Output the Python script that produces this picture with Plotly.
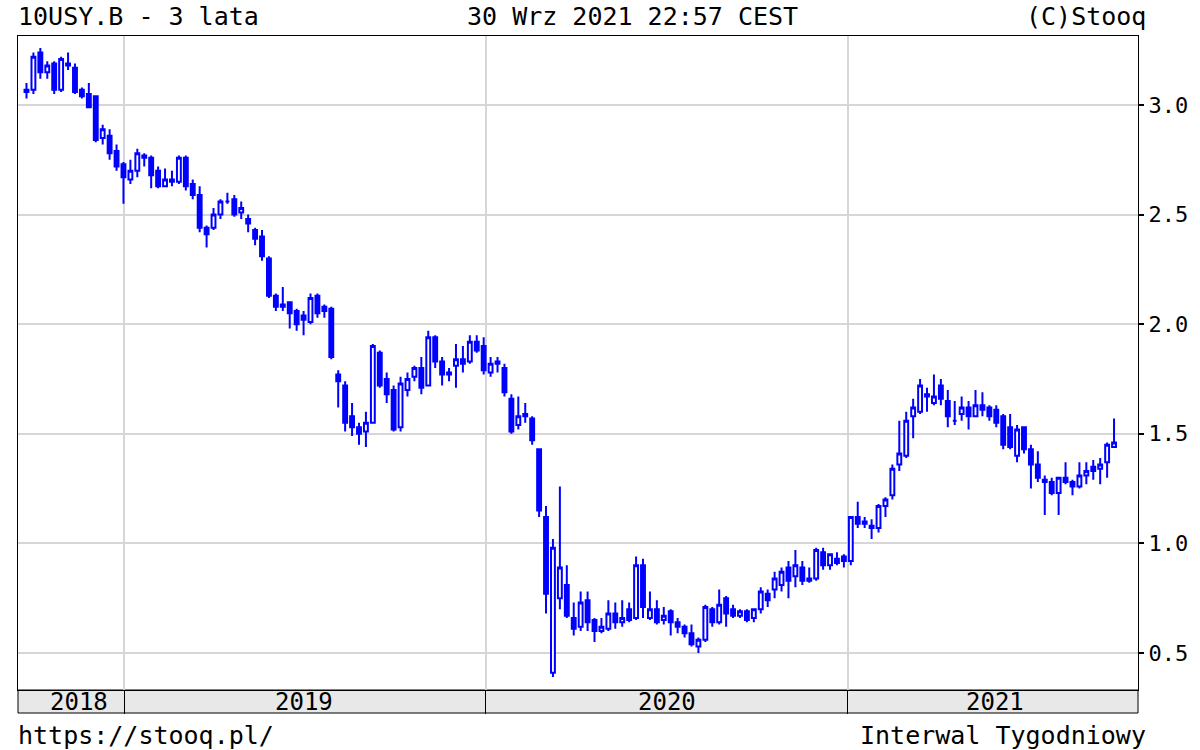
import pandas as pd
import plotly.graph_objects as go

# Weekly candles, week starting Monday 2018-09-24 .. 2021-09-27
dates = pd.date_range("2018-09-24", periods=158, freq="7D")

opens = [3.07, 3.07, 3.24, 3.15, 3.19, 3.07, 3.19, 3.17, 3.07, 3.05,
         3.04, 2.85, 2.86, 2.79, 2.73, 2.66, 2.70, 2.77, 2.76, 2.70,
         2.63, 2.66, 2.65, 2.76, 2.64, 2.59, 2.44, 2.44, 2.50, 2.56,
         2.57, 2.51, 2.48, 2.43, 2.40, 2.30, 2.13, 2.09, 2.10, 2.06,
         2.04, 2.01, 2.13, 2.08, 2.07, 1.77, 1.72, 1.58, 1.53, 1.51,
         1.55, 1.87, 1.75, 1.70, 1.53, 1.70, 1.76, 1.80, 1.72, 1.94,
         1.83, 1.78, 1.81, 1.84, 1.83, 1.92, 1.90, 1.78, 1.83, 1.80,
         1.66, 1.54, 1.58, 1.57, 1.43, 1.12, 0.41, 0.75, 0.81, 0.66,
         0.62, 0.74, 0.65, 0.60, 0.61, 0.68, 0.64, 0.70, 0.66, 0.90,
         0.66, 0.70, 0.65, 0.69, 0.64, 0.62, 0.59, 0.53, 0.56, 0.70,
         0.64, 0.75, 0.70, 0.67, 0.69, 0.66, 0.70, 0.77, 0.79, 0.81,
         0.89, 0.85, 0.89, 0.83, 0.84, 0.96, 0.90, 0.93, 0.94, 0.92,
         1.12, 1.10, 1.08, 1.07, 1.17, 1.22, 1.36, 1.40, 1.58, 1.60,
         1.68, 1.64, 1.72, 1.65, 1.56, 1.59, 1.62, 1.58, 1.63, 1.62,
         1.61, 1.58, 1.53, 1.40, 1.53, 1.43, 1.36, 1.29, 1.28, 1.23,
         1.30, 1.28, 1.26, 1.31, 1.35, 1.34, 1.37, 1.44]

highs = [3.10, 3.24, 3.26, 3.20, 3.20, 3.22, 3.24, 3.19, 3.08, 3.10,
         3.04, 2.91, 2.89, 2.82, 2.74, 2.75, 2.80, 2.78, 2.77, 2.72,
         2.71, 2.70, 2.77, 2.77, 2.66, 2.63, 2.45, 2.53, 2.57, 2.60,
         2.59, 2.56, 2.50, 2.44, 2.43, 2.31, 2.14, 2.17, 2.10, 2.07,
         2.06, 2.14, 2.14, 2.09, 2.08, 1.79, 1.74, 1.64, 1.55, 1.60,
         1.91, 1.88, 1.78, 1.72, 1.76, 1.78, 1.81, 1.85, 1.97, 1.95,
         1.85, 1.80, 1.91, 1.90, 1.95, 1.95, 1.94, 1.85, 1.85, 1.82,
         1.68, 1.67, 1.64, 1.58, 1.43, 1.17, 1.02, 1.26, 0.90, 0.73,
         0.78, 0.78, 0.66, 0.66, 0.74, 0.73, 0.74, 0.73, 0.94, 0.93,
         0.78, 0.74, 0.71, 0.70, 0.66, 0.63, 0.63, 0.57, 0.72, 0.71,
         0.79, 0.76, 0.72, 0.70, 0.70, 0.70, 0.80, 0.79, 0.87, 0.89,
         0.92, 0.97, 0.92, 0.89, 0.98, 0.98, 0.95, 0.96, 0.95, 1.12,
         1.19, 1.12, 1.11, 1.18, 1.21, 1.36, 1.56, 1.60, 1.66, 1.75,
         1.71, 1.77, 1.75, 1.70, 1.65, 1.67, 1.65, 1.70, 1.69, 1.63,
         1.63, 1.59, 1.59, 1.54, 1.53, 1.45, 1.42, 1.31, 1.30, 1.30,
         1.37, 1.29, 1.37, 1.37, 1.38, 1.39, 1.46, 1.57]

lows = [3.03, 3.05, 3.12, 3.12, 3.05, 3.06, 3.16, 3.05, 3.03, 2.99,
        2.83, 2.82, 2.75, 2.70, 2.55, 2.64, 2.67, 2.72, 2.62, 2.62,
        2.63, 2.63, 2.64, 2.61, 2.57, 2.42, 2.35, 2.43, 2.48, 2.55,
        2.49, 2.48, 2.42, 2.36, 2.29, 2.12, 2.06, 2.06, 1.98, 1.97,
        1.95, 2.00, 2.03, 2.03, 1.84, 1.62, 1.51, 1.49, 1.45, 1.44,
        1.55, 1.71, 1.64, 1.51, 1.51, 1.67, 1.74, 1.68, 1.72, 1.80,
        1.72, 1.74, 1.71, 1.78, 1.82, 1.87, 1.77, 1.76, 1.78, 1.67,
        1.50, 1.52, 1.55, 1.45, 1.12, 0.68, 0.39, 0.70, 0.66, 0.58,
        0.60, 0.60, 0.55, 0.59, 0.60, 0.61, 0.62, 0.64, 0.65, 0.66,
        0.65, 0.63, 0.63, 0.58, 0.59, 0.57, 0.53, 0.50, 0.55, 0.62,
        0.63, 0.62, 0.66, 0.66, 0.64, 0.64, 0.68, 0.71, 0.75, 0.78,
        0.75, 0.80, 0.81, 0.82, 0.83, 0.88, 0.88, 0.90, 0.89, 0.90,
        1.07, 1.07, 1.02, 1.05, 1.12, 1.20, 1.33, 1.39, 1.48, 1.59,
        1.60, 1.63, 1.63, 1.53, 1.54, 1.56, 1.52, 1.58, 1.58, 1.56,
        1.53, 1.43, 1.43, 1.37, 1.41, 1.25, 1.28, 1.13, 1.22, 1.13,
        1.27, 1.22, 1.25, 1.27, 1.29, 1.27, 1.30, 1.44]

closes = [3.06, 3.22, 3.15, 3.18, 3.07, 3.21, 3.18, 3.06, 3.04, 2.99,
          2.84, 2.89, 2.78, 2.72, 2.67, 2.70, 2.78, 2.76, 2.68, 2.63,
          2.66, 2.65, 2.76, 2.63, 2.59, 2.44, 2.41, 2.50, 2.56, 2.56,
          2.50, 2.53, 2.46, 2.39, 2.31, 2.13, 2.08, 2.08, 2.05, 2.00,
          2.02, 2.12, 2.05, 2.06, 1.85, 1.74, 1.55, 1.53, 1.50, 1.55,
          1.90, 1.72, 1.68, 1.52, 1.73, 1.75, 1.80, 1.71, 1.94, 1.83,
          1.77, 1.77, 1.84, 1.82, 1.92, 1.88, 1.79, 1.82, 1.82, 1.69,
          1.51, 1.58, 1.59, 1.47, 1.15, 0.77, 0.98, 0.89, 0.67, 0.61,
          0.73, 0.64, 0.60, 0.62, 0.68, 0.64, 0.66, 0.65, 0.90, 0.71,
          0.70, 0.64, 0.67, 0.64, 0.62, 0.59, 0.54, 0.56, 0.71, 0.64,
          0.72, 0.68, 0.67, 0.69, 0.65, 0.70, 0.78, 0.74, 0.84, 0.87,
          0.83, 0.90, 0.83, 0.84, 0.97, 0.90, 0.95, 0.91, 0.92, 1.12,
          1.09, 1.09, 1.07, 1.17, 1.20, 1.34, 1.41, 1.56, 1.62, 1.72,
          1.67, 1.67, 1.66, 1.58, 1.56, 1.62, 1.58, 1.63, 1.61, 1.58,
          1.55, 1.45, 1.44, 1.52, 1.43, 1.36, 1.30, 1.28, 1.23, 1.30,
          1.28, 1.26, 1.31, 1.33, 1.33, 1.36, 1.45, 1.46]

year_labels = ["2018", "2019", "2020", "2021"]

BLUE = "#0000ff"
FONT = "DejaVu Sans Mono"
W, H = 1200, 750
L, T, R, B = 18, 36, 56, 60
PH = H - T - B
PW = W - L - R

fig = go.Figure(go.Candlestick(
    x=dates, open=opens, high=highs, low=lows, close=closes,
    increasing=dict(line=dict(color=BLUE, width=2), fillcolor="#ffffff"),
    decreasing=dict(line=dict(color=BLUE, width=2), fillcolor=BLUE),
    whiskerwidth=0, showlegend=False, hoverinfo="skip",
))

fig.update_layout(
    width=W, height=H,
    margin=dict(l=L, r=R, t=T, b=B, pad=0),
    paper_bgcolor="#ffffff", plot_bgcolor="#ffffff",
    font=dict(family=FONT, size=24, color="#000000"),
    boxgap=0.2,
    showlegend=False,
)

fig.update_xaxes(
    type="date", range=["2018-09-15 10:00", "2021-10-21 05:00"],
    rangeslider=dict(visible=False),
    showgrid=True, gridcolor="#d6d6d6", gridwidth=2,
    tick0="2019-01-01", dtick="M12",
    ticks="outside", ticklen=23, tickwidth=1, tickcolor="#000000",
    showticklabels=False,
    showline=True, linecolor="#000000", linewidth=1, mirror=True,
    zeroline=False,
)

fig.update_yaxes(
    side="right", range=[0.331, 3.315],
    tick0=0, dtick=0.5, tickformat=".1f",
    ticks="outside", ticklen=5, tickwidth=2, tickcolor="#000000",
    tickfont=dict(family=FONT, size=22, color="#000000"),
    showgrid=True, gridcolor="#d6d6d6", gridwidth=2,
    showline=True, linecolor="#000000", linewidth=1, mirror=True,
    zeroline=False,
)

band_h = 23 / PH
fig.add_shape(type="rect", xref="paper", yref="paper",
              x0=0, x1=1, y0=-band_h, y1=0,
              fillcolor="#e8e8e8", line=dict(color="#000000", width=1),
              layer="below")

def px_x(px):
    return (px - L) / PW

def px_y(py):
    return (H - B - py) / PH

year_px = [79, 306, 670, 1000]
for lab, xp in zip(year_labels, year_px):
    fig.add_annotation(text=lab, xref="paper", yref="paper",
                       x=px_x(xp), y=px_y(702), xanchor="center", yanchor="middle",
                       showarrow=False, font=dict(family=FONT, size=24, color="#000000"))

texts = [
    ("10USY.B - 3 lata", px_x(17), "left", 16),
    ("30 Wrz 2021 22:57 CEST", px_x(636), "center", 16),
    ("(C)Stooq", px_x(1153), "right", 16),
    ("https://stooq.pl/", px_x(17), "left", 735),
    ("Interwal Tygodniowy", px_x(1153), "right", 735),
]
for txt, xx, anc, py in texts:
    fig.add_annotation(text=txt, xref="paper", yref="paper",
                       x=xx, y=px_y(py), xanchor=anc, yanchor="middle",
                       showarrow=False, borderpad=0,
                       font=dict(family=FONT, size=25, color="#000000"))

fig.write_html("out.html",
               config={"displayModeBar": False, "staticPlot": True},
               post_script="document.body.style.margin='0';document.body.style.overflow='hidden';")
